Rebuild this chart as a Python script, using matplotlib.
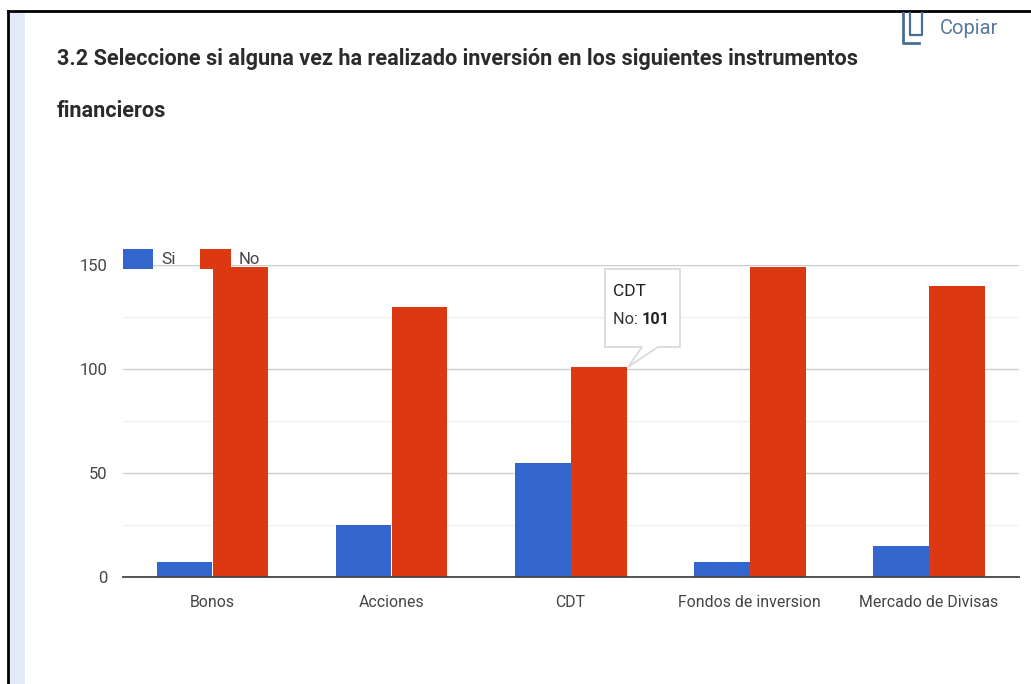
import matplotlib
matplotlib.use("Agg")
import matplotlib.pyplot as plt
from matplotlib.patches import Rectangle, Polygon
import numpy as np

plt.rcParams['font.family'] = ['Roboto', 'DejaVu Sans']

categories = ['Bonos', 'Acciones', 'CDT', 'Fondos de inversion', 'Mercado de Divisas']
si_values = [7, 25, 55, 7, 15]
no_values = [149, 130, 101, 149, 140]
y_ticks = [0, 50, 100, 150]
minor_ticks = [25, 75, 125]
title = '3.2 Seleccione si alguna vez ha realizado inversión en los siguientes instrumentos\nfinancieros'

W, H = 1031, 684
BLUE = '#3366cc'
RED = '#dc3912'

fig = plt.figure(figsize=(W / 100, H / 100), dpi=100)

# page layer in pixel coords
bg = fig.add_axes([0, 0, 1, 1])
bg.set_xlim(0, W)
bg.set_ylim(H, 0)
bg.axis('off')
bg.add_patch(Rectangle((9, 12), 16, H - 12, color='#e3ebf8', lw=0))
bg.plot([8, 8], [11, H], color='black', lw=2)
bg.plot([8, W], [11, 11], color='black', lw=2)
bg.text(57, 85, title, fontsize=15.6, fontweight='bold', color='#2b2b2b', va='center',
        linespacing=2.75)
bg.text(940, 28, 'Copiar', fontsize=14.5, color='#5b7a99', va='center')
bg.plot([903, 903, 919], [13, 43, 43], color='#4a6f94', lw=2)
bg.plot([910, 910, 922, 922], [13, 35, 35, 13], color='#4a6f94', lw=1.6)

# chart
x0, x1, y0, y150 = 122.5, 1018.5, 577, 265
ax = fig.add_axes([x0 / W, 1 - y0 / H, (x1 - x0) / W, (y0 - y150) / H])
ax.patch.set_alpha(0)
x = np.arange(len(categories))
bw = 0.31
ax.set_xlim(-0.5, len(categories) - 0.5)
ax.set_ylim(0, 150)
ax.set_axisbelow(True)
ax.bar(x - bw / 2, si_values, bw, color=BLUE, clip_on=False)
ax.bar(x + bw / 2 + 0.003, no_values, bw, color=RED, clip_on=False)
ax.set_yticks(y_ticks)
ax.set_yticks(minor_ticks, minor=True)
ax.grid(axis='y', which='major', color='#cccccc', lw=1)
ax.grid(axis='y', which='minor', color='#f0f0f0', lw=1)
ax.tick_params(which='both', length=0)
ax.tick_params(axis='y', pad=11, labelsize=12, labelcolor='#444444')
ax.tick_params(axis='x', pad=13, labelsize=11.4, labelcolor='#444444')
ax.set_xticks(x)
ax.set_xticklabels(categories)
for s in ['top', 'right', 'left']:
    ax.spines[s].set_visible(False)
ax.spines['bottom'].set_color('#444444')
ax.spines['bottom'].set_linewidth(1.3)

# legend and tooltip sit above the chart
top = fig.add_axes([0, 0, 1, 1], zorder=5)
top.set_xlim(0, W)
top.set_ylim(H, 0)
top.axis('off')
top.add_patch(Rectangle((123, 249), 30, 20, color=BLUE, lw=0))
top.text(161, 259, 'Si', fontsize=12.5, color='#444444', va='center')
top.add_patch(Rectangle((200, 249), 31, 20, color=RED, lw=0))
top.text(239, 259, 'No', fontsize=12, color='#444444', va='center')

outline = [(605, 269), (680, 269), (680, 347), (658, 347), (628, 367), (642, 347), (605, 347)]
top.add_patch(Polygon(outline, closed=True, facecolor='white', edgecolor='#d8d8d8', lw=1.2))
top.text(613, 292, 'CDT', fontsize=12.5, color='#222222', va='center')
no_txt = top.text(613, 320, 'No: ', fontsize=11.7, color='#333333', va='center')
top.annotate(str(no_values[2]), xy=(1, 0.5), xycoords=no_txt, va='center',
             fontsize=11.7, fontweight='bold', color='#222222')

fig.savefig('out.png', dpi=100)
